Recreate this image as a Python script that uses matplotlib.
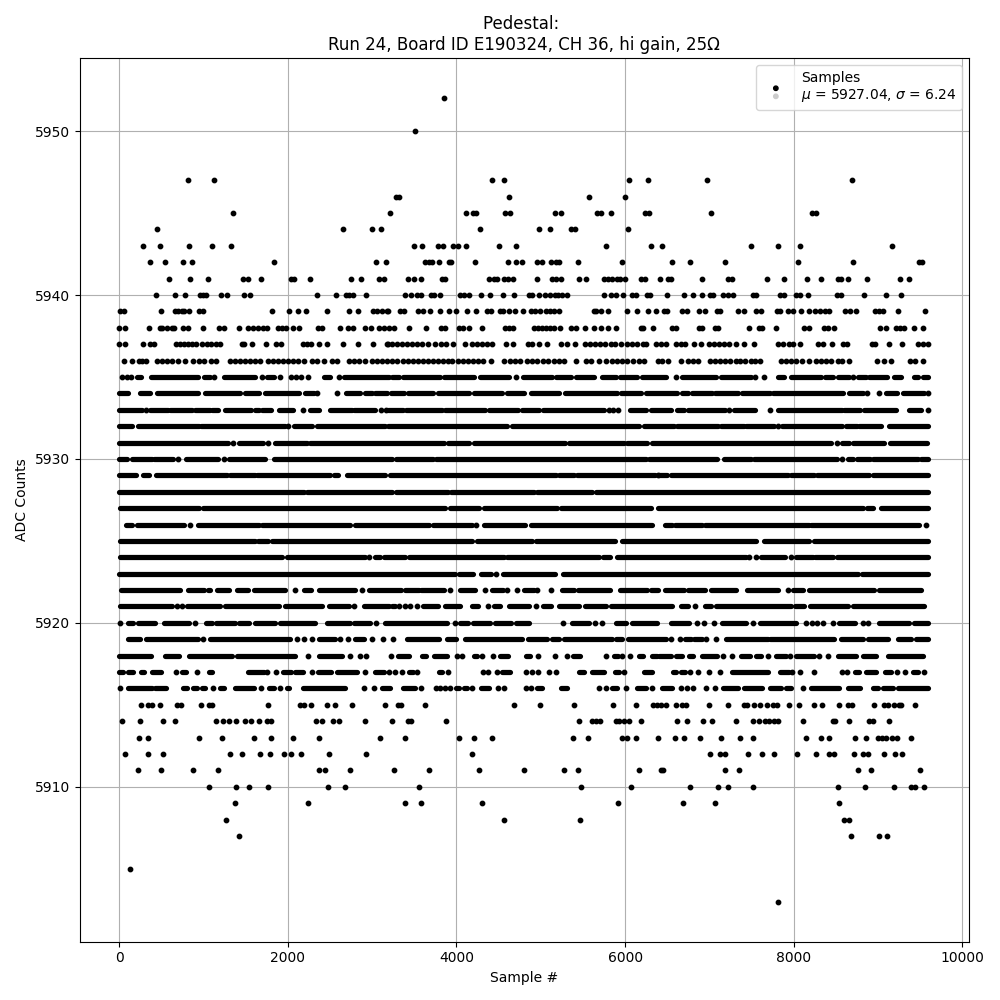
import numpy as np
import matplotlib
matplotlib.use("Agg")
import matplotlib.pyplot as plt
from matplotlib.legend_handler import HandlerPathCollection

# Isolated samples: ADC level -> sample numbers
dots_5952 = [3849]
dots_5950 = [3505]
dots_5947 = [812, 1121, 4423, 4566, 6051, 6277, 6977, 8688]
dots_5946 = [3287, 3315, 4625, 5576, 6003]
dots_5945 = [1347, 3212, 4114, 4194, 4233, 4574, 4637, 5172, 5235, 5671, 5710, 5837, 6237, 6285, 7024, 8213, 8264]
dots_5944 = [444, 2654, 2998, 3105, 4281, 4982, 5108, 5362, 5401, 6039]
dots_5943 = [278, 480, 824, 1098, 1323, 3497, 3592, 3782, 3841, 3956, 4019, 4114, 4507, 4709, 5778, 6312, 6442, 7488, 7820, 8070, 9163]
dots_5942 = [361, 539, 753, 860, 1834, 3046, 3165, 3631, 3671, 3711, 3794, 3909, 3940, 4221, 4613, 4709, 4772, 4958, 5017, 5124, 5176, 5215, 5445, 5968, 6561, 6775, 7191, 8046, 8700, 9484, 9519]
dots_5941 = [587, 836, 1050, 1466, 1525, 1680, 2040, 2068, 2262, 2749, 2868, 3082, 3141, 3425, 3497, 3580, 3829, 3861, 4388, 4443, 4483, 4566, 4606, 4673, 4958, 5136, 5184, 5239, 5457, 5540, 5754, 5794, 5849, 5908, 5944, 5995, 6194, 6241, 6419, 6514, 6545, 6918, 7226, 7274, 7678, 7880, 8153, 8319, 8521, 8557, 8640, 8866, 9258, 9365]
dots_5940 = [432, 658, 777, 959, 991, 1026, 1212, 1276, 1478, 1549, 2345, 2571, 2689, 2729, 2769, 2927, 3390, 3461, 3532, 3580, 3699, 3730, 3805, 4047, 4087, 4150, 4293, 4400, 4554, 4685, 4863, 4899, 4982, 5053, 5105, 5164, 5207, 5247, 5314, 5754, 5837, 5896, 5980, 6087, 6126, 6265, 6300, 6502, 6704, 6811, 6918, 7013, 7044, 7167, 7226, 7286, 7512, 7551, 7832, 7880, 8022, 8070, 8165, 8509, 8557, 8830, 9092, 9270]
dots_5939 = [9, 56, 492, 658, 694, 741, 765, 824, 943, 991, 1810, 2012, 2119, 2214, 2464, 2725, 2832, 3010, 3058, 3117, 3177, 3188, 3334, 3382, 3544, 3604, 3687, 3805, 3912, 3995, 4126, 4237, 4364, 4411, 4518, 4554, 4625, 4697, 4784, 4887, 4926, 4994, 5065, 5113, 5160, 5219, 5627, 5659, 5718, 5801, 6027, 6138, 6277, 6371, 6466, 6502, 6680, 6739, 6882, 6945, 7096, 7124, 7345, 7405, 7559, 7618, 7797, 7832, 7927, 7987, 8082, 8177, 8248, 8307, 8367, 8422, 8604, 8664, 8735, 8961, 9008, 9056, 9234, 9555]
dots_5938 = [1, 68, 349, 480, 504, 563, 622, 646, 753, 812, 991, 1181, 1240, 1418, 1525, 1585, 1644, 1703, 1751, 1882, 1929, 1977, 2060, 2131, 2357, 2404, 2618, 2713, 2772, 2915, 2987, 3082, 3141, 3197, 3259, 3437, 3639, 3817, 3865, 4031, 4079, 4150, 4304, 4578, 4625, 4673, 4922, 4970, 5017, 5065, 5113, 5160, 5227, 5362, 5421, 5528, 5635, 5718, 5797, 5896, 6194, 6217, 6335, 6561, 6601, 6878, 6918, 7072, 7108, 7476, 7583, 7630, 7785, 8117, 8177, 8355, 8402, 8473, 9020, 9092, 9210, 9258, 9305, 9424, 9531]
dots_5937 = [0, 68, 278, 361, 409, 670, 717, 765, 812, 860, 907, 979, 1038, 1086, 1145, 1192, 1454, 1478, 1577, 1739, 1858, 1917, 2179, 2226, 2274, 2369, 2464, 2654, 2832, 3010, 3177, 3188, 3235, 3295, 3354, 3414, 3473, 3532, 3592, 3663, 3746, 3817, 3877, 3960, 4099, 4186, 4245, 4304, 4364, 4423, 4590, 4673, 4851, 4899, 4982, 5077, 5243, 5314, 5409, 5528, 5588, 5647, 5706, 5766, 5837, 5884, 5956, 6027, 6087, 6146, 6217, 6253, 6363, 6423, 6482, 6609, 6668, 6716, 6823, 6906, 6999, 7060, 7119, 7179, 7238, 7321, 7416, 7535, 7820, 7868, 7939, 7998, 8070, 8284, 8343, 8450, 8580, 8628, 8925, 8961, 9127, 9281, 9472, 9531, 9591]
dots_5936 = [52, 147, 230, 266, 314, 444, 504, 563, 622, 698, 777, 872, 947, 1006, 1086, 1145, 1311, 1371, 1430, 1490, 1549, 1608, 1668, 1763, 1822, 1882, 1941, 2000, 2060, 2119, 2191, 2286, 2345, 2428, 2523, 2583, 2725, 2784, 2844, 2915, 2998, 3058, 3117, 3177, 3235, 3295, 3366, 3425, 3485, 3544, 3604, 3663, 3722, 3782, 3841, 3901, 3948, 4019, 4079, 4138, 4198, 4257, 4316, 4411, 4566, 4637, 4697, 4756, 4839, 4899, 4958, 5029, 5089, 5160, 5219, 5279, 5421, 5540, 5599, 5694, 5778, 5849, 5908, 5968, 6027, 6098, 6170, 6229, 6395, 6442, 6514, 6664, 6747, 6811, 6870, 7013, 7072, 7131, 7191, 7250, 7310, 7369, 7428, 7488, 7547, 7595, 7844, 7904, 7963, 8022, 8094, 8177, 8260, 8319, 8379, 8438, 8521, 8569, 8652, 8985, 9068, 9151, 9377, 9436, 9531]
dots_5914 = [28, 242, 515, 658, 1145, 1232, 1300, 1383, 1490, 1561, 1656, 1751, 1799, 2333, 2404, 2535, 2606, 2915, 3235, 3425, 3461, 3877, 5457, 5611, 5651, 5706, 5888, 5928, 5988, 6047, 6194, 6621, 6739, 6929, 7036, 7310, 7512, 7583, 7662, 7710, 7769, 7820, 8106, 8462, 8494, 8652, 8890, 8945, 9135]
dots_5915 = [254, 337, 385, 480, 682, 733, 967, 1066, 1098, 1763, 2143, 2191, 2274, 2464, 2563, 2761, 3153, 3307, 3338, 3627, 4685, 4994, 5398, 5861, 6134, 6336, 6384, 6423, 6490, 6609, 6680, 6720, 7001, 7226, 7413, 7452, 7535, 7595, 7678, 7749, 7797, 7939, 8058, 8236, 8331, 8533, 8640, 8688, 8949, 9068, 9115, 9187, 9246, 9274, 9440]
dots_5913 = [230, 337, 943, 1216, 1597, 1799, 2060, 2369, 3093, 3390, 4031, 4210, 4423, 5386, 5564, 5968, 6027, 6134, 6395, 6597, 6704, 6894, 7143, 7369, 7512, 8141, 8319, 8414, 8723, 8854, 8997, 9044, 9095, 9163, 9222, 9389]
dots_5912 = [64, 337, 515, 1311, 1454, 1668, 1787, 1953, 2036, 2155, 2487, 2927, 4186, 7013, 7131, 7191, 7464, 7630, 7761, 8034, 8260, 8414, 8473, 8711, 8818, 8878, 9068, 9198, 9282]
dots_5911 = [218, 492, 872, 1169, 2369, 2440, 2737, 3259, 3675, 4269, 4803, 5279, 5445, 6170, 6423, 6454, 7191, 7357, 8759, 8913, 9495]
dots_5910 = [1062, 1383, 1537, 1763, 2476, 2678, 3556, 5481, 6075, 6775, 7108, 7226, 7523, 8521, 8842, 9187, 9393, 9440, 9543]
dots_5909 = [1371, 2238, 3390, 3580, 4304, 5920, 6692, 7072, 8533]
dots_5908 = [1264, 4566, 5469, 8593, 8652]
dots_5907 = [1418, 8676, 9008, 9103]
dots_5905 = [132]
dots_5903 = [7817]

# Dense levels: overlapping samples read as (first, last) stretches; a bare number is a lone sample
runs_5935 = [28, 88, 139, (207, 254), (377, 939), (999, 1078), 1129, (1236, 1612), 1692, (1751, 1838), 1905, 2040, 2096, 2159, 2238, (2424, 2503), 2602, (2662, 3196), (3235, 3315), (3362, 3810), (3849, 4206), (4277, 4621), 4709, (4788, 5136), (5176, 5354), (5421, 5631), (5730, 5889), (5936, 6146), (6205, 6482), 6601, (6672, 7076), (7135, 7492), 7539, 7654, (7809, 7888), (7967, 8323), (8371, 8462), (8521, 8660), 8700, (8759, 8858), (8898, 9104), (9195, 9274), (9432, 9472), (9531, 9591)]
runs_5934 = [(0, 100), (246, 365), (444, 939), (1018, 1434), (1494, 1660), (1731, 2127), (2198, 2305), 2345, 2583, (2690, 2860), (2919, 2998), (3038, 3176), (3227, 3374), (3425, 3719), (3782, 4146), (4206, 4542), (4602, 4800), (4879, 5215), (5287, 5908), (5956, 6186), (6245, 6620), (6672, 6751), (6791, 7028), (7068, 7345), (7385, 7718), (7749, 8581), (8652, 8818), 8866, 9016, (9095, 9222), (9294, 9551), 9591]
runs_5933 = [(0, 266), 314, (365, 583), (607, 860), (892, 1078), (1098, 1169), (1256, 1565), (1612, 1652), (1692, 1802), (1890, 2060), 2179, (2262, 2365), (2503, 2761), (2781, 3038), 3109, 3165, (3188, 3362), (3402, 3829), (3869, 4344), (4384, 4732), (4780, 4978), (5025, 5750), 5809, 5861, 5920, (6055, 6253), (6304, 6541), (6621, 6700), (6751, 7187), 7234, (7294, 7543), 7718, (7820, 8573), (8600, 8787), (8838, 9214), (9365, 9511), 9591]
runs_5932 = [(0, 147), (218, 947), (971, 1969), 2000, (2068, 2286), (2345, 3157), (3188, 4602), (4653, 6166), (6225, 6581), (6621, 7108), (7135, 7413), (7440, 7769), 7809, (7860, 8573), (8620, 8747), (8779, 9036), (9135, 9591)]
runs_5931 = [(0, 1288), 1343, (1422, 1700), 1763, (1850, 2226), (2266, 3849), (3901, 4154), (4206, 5287), (5334, 5988), (6027, 6265), (6316, 8442), 8510, (8573, 8652), (8708, 9076), (9143, 9579)]
runs_5930 = [(0, 88), (147, 385), (416, 642), 702, (789, 1169), 1236, (1304, 1723), (1830, 3235), (3283, 3719), (3758, 6245), (6284, 7096), (7175, 7492), (7535, 8510), 8569, (8640, 8708), (8747, 8906), (8945, 9472), (9511, 9591)]
runs_5929 = [(0, 195), (286, 353), (432, 1276), (1315, 1604), (1632, 2503), (2543, 2594), (2701, 3156), (3208, 5176), (5219, 5394), (5433, 6356), 6395, (6395, 6502), (6541, 7927), (7967, 8244), (8272, 8898), (8937, 9591)]
runs_5928 = [(0, 2187), (2226, 3235), (3283, 3901), (3940, 4918), (4958, 5611), (5651, 9591)]
runs_5927 = [(9, 947), (991, 3861), (3928, 4265), (4324, 5196), (5235, 6304), (6395, 8818), (8866, 8945), (9036, 9591)]
runs_5926 = [(76, 147), (207, 773), 840, (931, 1652), (1692, 2741), (2792, 3679), (3718, 4186), 4233, (4324, 4811), (4879, 6324), (6472, 6561), (6593, 6910), (6949, 8177), (8205, 9484), 9571]
runs_5925 = [(9, 1612), (1644, 1763), (1810, 4186), (4245, 4891), (4946, 5881), (5968, 7559), (7650, 8185), (8244, 9591)]
runs_5924 = [(9, 1929), (1989, 2919), 2967, (3038, 3097), (3137, 3394), (3433, 4562), (4602, 5691), (5738, 5817), (5908, 7432), 7472, 7551, (7611, 7900), 7967, (8026, 8224), (8252, 8470), (8510, 9591)]
runs_5923 = [(0, 3988), (4027, 4194), (4285, 4415), 4471, (4550, 5168), (5267, 8759), (8810, 9591)]
runs_5922 = [(20, 721), (820, 999), (1050, 1078), (1157, 1296), (1391, 1525), (1593, 1961), 2080, (2187, 2278), (2365, 2800), 2880, (2967, 3346), (3386, 3552), (3584, 3849), 3924, (4039, 4225), 4336, (4423, 4550), 4602, 4716, (4800, 4918), 4958, 5116, (5247, 5394), (5445, 5817), (5944, 6265), (6304, 6395), (6474, 6700), (6751, 6949), (7017, 7321), (7452, 7820), 7927, (7987, 8106), (8185, 8957), (9008, 9511)]
runs_5921 = [(9, 622), 682, 741, (801, 1197), (1248, 1890), (1969, 2404), (2492, 2721), 2781, (2899, 3196), (3235, 3275), 3315, 3386, 3453, 3532, (3600, 3782), (3861, 4047), (4186, 4257), 4376, (4443, 4511), (4621, 4859), 4938, (5025, 5116), (5215, 5453), (5524, 5770), (5829, 6561), (6660, 6751), 6830, (6949, 7017), (7084, 7967), (8015, 8125), (8193, 8640), (8708, 9551)]
runs_5920 = [9, (100, 167), (226, 424), (535, 828), 892, (1026, 1098), (1145, 1375), (1414, 1533), (1612, 1850), (1909, 2317), (2464, 2741), (2781, 2979), 3046, (3157, 3889), 3980, (4039, 4138), (4194, 4392), (4455, 4641), (4709, 4859), 5267, (5366, 5572), 5639, 5730, (5896, 6015), (6087, 6383), (6541, 6759), 6858, 6937, 7060, (7147, 7432), 7512, (7599, 8026), 8145, 8216, 8276, 8343, 8462, (8533, 8731), 8818, 8878, (9008, 9373), (9432, 9591)]
runs_5919 = [(100, 246), (314, 931), 991, (1078, 2028), 2107, 2187, 2286, (2365, 2563), 2622, 2713, (2800, 2899), 2998, 3128, 3247, (3414, 3798), (3889, 3996), (4099, 4780), (4851, 5077), (5136, 5215), (5275, 5849), (5888, 5960), (6039, 6482), 6541, 6648, (6712, 6779), (6819, 6918), 6965, 7076, (7203, 7690), (7717, 8482), (8561, 8818), (8878, 9115), (9234, 9393), (9452, 9591)]
runs_5918 = [(0, 377), (543, 710), (832, 1335), (1395, 2088), 2238, (2373, 2642), 2737, 2860, 2927, 3227, (3307, 3433), (3592, 3639), (3730, 3889), 4008, 4067, (4206, 4245), 4304, 4435, (4522, 4613), (4819, 4867), 4970, 5172, 5314, (5386, 5465), 5778, (5873, 5920), 5968, 6063, (6166, 6213), (6324, 6384), (6403, 6541), (6609, 6680), (6759, 6811), (6918, 7096), 7163, 7274, (7373, 7484), (7551, 7618), 7690, (7789, 7908), 7955, (8026, 8244), 8304, 8402, (8521, 8739), (8818, 8977), (9115, 9531)]
runs_5917 = [(0, 48), (108, 167), (254, 298), (385, 496), 670, (741, 789), 923, (1066, 1105), (1525, 1711), 1751, 1858, (1941, 2040), (2088, 2179), 2286, (2357, 2515), (2583, 2820), 2919, (3038, 3136), 3196, 3275, 3354, (3441, 3481), 3532, (3790, 3829), 3901, 4316, 4376, 4483, (4542, 4633), 4827, 4891, 4970, 5101, 5184, (5453, 5512), (5611, 5750), (5881, 5928), 5991, (6225, 6324), (6569, 6609), (6660, 6708), 6775, 6870, 7001, 7131, (7274, 7690), (7836, 7939), 7979, 8070, 8236, 8569, 8628, (8723, 8779), (8858, 8977), (9080, 9151), 9222, 9317, (9412, 9472), 9543]
runs_5916 = [5, (108, 385), (424, 551), (761, 801), (880, 919), (979, 1018), 1109, (1197, 1236), (1375, 1593), 1680, (1771, 1830), 1909, (1989, 2016), (2179, 2682), 2903, 3018, (3117, 3208), (3366, 3505), 3580, 3758, 3810, 3861, 3924, (3996, 4027), (4095, 4126), 4186, (4289, 4384), 4495, 4566, 4819, 4879, (4958, 5009), (5243, 5314), 5694, 5778, (5849, 5908), 6015, (6146, 6245), 6324, (6434, 6553), 6668, 6739, 6811, 6965, 7072, (7167, 7345), (7413, 7630), (7717, 7848), (7908, 7967), 8106, (8205, 8541), (8640, 8787), (8937, 8997), (9056, 9175), (9234, 9591)]

dot_levels = {5952: dots_5952, 5950: dots_5950, 5947: dots_5947, 5946: dots_5946, 5945: dots_5945,
              5944: dots_5944, 5943: dots_5943, 5942: dots_5942, 5941: dots_5941, 5940: dots_5940,
              5939: dots_5939, 5938: dots_5938, 5937: dots_5937, 5936: dots_5936, 5915: dots_5915,
              5914: dots_5914, 5913: dots_5913, 5912: dots_5912, 5911: dots_5911, 5910: dots_5910,
              5909: dots_5909, 5908: dots_5908, 5907: dots_5907, 5905: dots_5905, 5903: dots_5903}
run_levels = {5935: runs_5935, 5934: runs_5934, 5933: runs_5933, 5932: runs_5932, 5931: runs_5931,
              5930: runs_5930, 5929: runs_5929, 5928: runs_5928, 5927: runs_5927, 5926: runs_5926,
              5925: runs_5925, 5924: runs_5924, 5923: runs_5923, 5922: runs_5922, 5921: runs_5921,
              5920: runs_5920, 5919: runs_5919, 5918: runs_5918, 5917: runs_5917, 5916: runs_5916}

title = "Pedestal: \nRun 24, Board ID E190324, CH 36, hi gain, 25\u03a9"
legend_label = "Samples\n$\\mu$ = 5927.04, $\\sigma$ = 6.24"


class StackedHandler(HandlerPathCollection):
    """Legend handle with its two points one above the other."""
    def get_xdata(self, legend, xdescent, ydescent, width, height, fontsize):
        c = width / 2 - xdescent
        return [c, c], [c, c]


fig, ax = plt.subplots(figsize=(10, 10), dpi=100)
MS = 10
LW = np.sqrt(MS) + 0.6

xs, ys = [], []
for lev, vals in dot_levels.items():
    xs += vals
    ys += [lev] * len(vals)
for lev, items in run_levels.items():
    for it in items:
        if isinstance(it, tuple):
            ax.hlines(lev, it[0], it[1], colors="k", linewidth=LW, capstyle="round", zorder=3)
        else:
            xs.append(it)
            ys.append(lev)
ax.scatter(xs, ys, s=MS, c="k", zorder=3)

proxy = ax.scatter([np.nan, np.nan], [np.nan, np.nan], s=MS, c=["k", "#cccccc"])
ax.legend([proxy], [legend_label], loc="upper right", scatterpoints=2,
          scatteryoffsets=[0.47, -0.36], handler_map={proxy: StackedHandler()})

ax.set_xlim(-472, 10075)
ax.set_ylim(5900.55, 5954.45)
ax.set_xticks([0, 2000, 4000, 6000, 8000, 10000])
ax.set_yticks([5910, 5920, 5930, 5940, 5950])
ax.grid(True)
ax.set_axisbelow(True)
ax.set_xlabel("Sample #")
ax.set_ylabel("ADC Counts")
ax.set_title(title)
fig.tight_layout()
fig.savefig("out.png", dpi=100)
